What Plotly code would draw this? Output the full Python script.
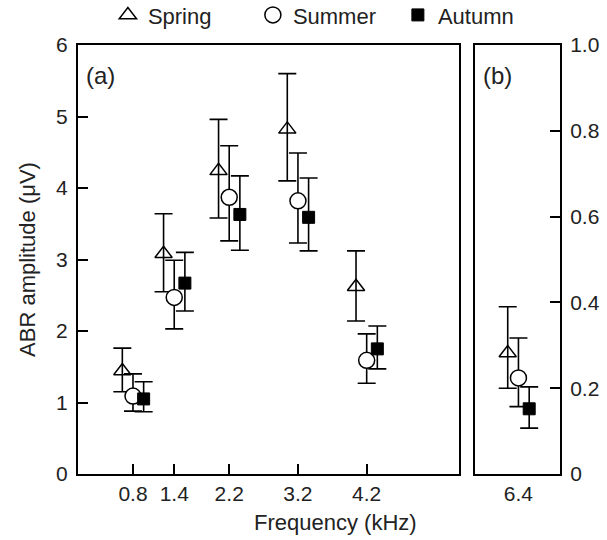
import plotly.graph_objects as go

# ---- data ----
freqs_a = [0.8, 1.4, 2.2, 3.2, 4.2]
freqs_b = [6.4]

spring_a = [1.44, 3.08, 4.24, 4.82, 2.62]
spring_a_hi = [1.76, 3.64, 4.96, 5.60, 3.12]
spring_a_lo = [1.15, 2.55, 3.58, 4.10, 2.14]

summer_a = [1.09, 2.47, 3.87, 3.82, 1.59]
summer_a_hi = [1.40, 2.99, 4.59, 4.49, 1.96]
summer_a_lo = [0.88, 2.03, 3.26, 3.23, 1.27]

autumn_a = [1.05, 2.67, 3.63, 3.59, 1.75]
autumn_a_hi = [1.29, 3.10, 4.17, 4.14, 2.07]
autumn_a_lo = [0.87, 2.28, 3.13, 3.12, 1.47]

spring_b = [0.282]
spring_b_hi = [0.39]
spring_b_lo = [0.20]

summer_b = [0.224]
summer_b_hi = [0.317]
summer_b_lo = [0.157]

autumn_b = [0.152]
autumn_b_hi = [0.203]
autumn_b_lo = [0.107]

series_names = ["Spring", "Summer", "Autumn"]
y_ticks_a = [0, 1, 2, 3, 4, 5, 6]
y_ticks_b = [0, 0.2, 0.4, 0.6, 0.8, 1.0]
y_ticktext_b = ["0", "0.2", "0.4", "0.6", "0.8", "1.0"]

# ---- styling ----
FONT = "Arial, Liberation Sans, Helvetica, sans-serif"
TXT = "#222"
dx = 0.155
styles = {
    "Spring": dict(symbol="triangle-up-open", size=15, color="black", line=dict(width=1.5, color="black")),
    "Summer": dict(symbol="circle", size=16, color="white", line=dict(width=1.5, color="black")),
    "Autumn": dict(symbol="square", size=12, color="black", line=dict(width=1, color="black")),
}
offsets = {"Spring": -dx, "Summer": 0.0, "Autumn": dx}


def err(mean, hi, lo):
    return dict(type="data", symmetric=False,
                array=[h - m for h, m in zip(hi, mean)],
                arrayminus=[m - l for m, l in zip(mean, lo)],
                color="black", thickness=1.6, width=9)


fig = go.Figure()

data_a = {
    "Spring": (spring_a, spring_a_hi, spring_a_lo),
    "Summer": (summer_a, summer_a_hi, summer_a_lo),
    "Autumn": (autumn_a, autumn_a_hi, autumn_a_lo),
}
data_b = {
    "Spring": (spring_b, spring_b_hi, spring_b_lo),
    "Summer": (summer_b, summer_b_hi, summer_b_lo),
    "Autumn": (autumn_b, autumn_b_hi, autumn_b_lo),
}

for name in series_names:
    m, hi, lo = data_a[name]
    fig.add_trace(go.Scatter(
        x=[f + offsets[name] for f in freqs_a], y=m, mode="markers", name=name,
        marker=styles[name], error_y=err(m, hi, lo), xaxis="x", yaxis="y",
        showlegend=True, cliponaxis=False))

for name in series_names:
    m, hi, lo = data_b[name]
    fig.add_trace(go.Scatter(
        x=[f + offsets[name] for f in freqs_b], y=m, mode="markers", name=name,
        marker=styles[name], error_y=err(m, hi, lo), xaxis="x2", yaxis="y2",
        showlegend=False, cliponaxis=False))

axis_common = dict(showline=True, linecolor="black", linewidth=2, mirror=True,
                   showgrid=False, zeroline=False,
                   tickfont=dict(family=FONT, size=21, color=TXT),
                   ticks="inside", ticklen=10, tickwidth=2, tickcolor="black")

fig.update_layout(
    width=607, height=540,
    margin=dict(l=78, r=47, t=45, b=66, autoexpand=False),
    plot_bgcolor="white", paper_bgcolor="white",
    font=dict(family=FONT, size=21, color=TXT),
    xaxis=dict(axis_common, domain=[0, 0.790], range=[0, 5.54],
               tickvals=freqs_a, ticktext=[str(f) for f in freqs_a]),
    yaxis=dict(axis_common, range=[0, 6], tickvals=y_ticks_a, ticklabelstandoff=4,
               title=dict(text="ABR amplitude (μV)", font=dict(family=FONT, size=22, color=TXT), standoff=14)),
    xaxis2=dict(axis_common, domain=[0.824, 1], range=[5.775, 7.0],
                tickvals=freqs_b, ticktext=[str(f) for f in freqs_b], ticks=""),
    yaxis2=dict(axis_common, range=[0, 1.0], anchor="x2", side="right",
                tickvals=y_ticks_b, ticktext=y_ticktext_b, ticklabelstandoff=4),
    legend=dict(orientation="h", x=0.062, y=0.972, xanchor="left", yanchor="middle",
                yref="container",
                font=dict(family=FONT, size=22, color=TXT),
                entrywidth=100, itemwidth=30, bgcolor="rgba(0,0,0,0)"),
    annotations=[
        dict(text="Frequency (kHz)", x=0.535, y=-0.112, xref="paper", yref="paper",
             xanchor="center", yanchor="middle", showarrow=False,
             font=dict(family=FONT, size=22, color=TXT)),
        dict(text="(a)", x=0.012, y=0.93, xref="paper", yref="paper",
             xanchor="left", yanchor="middle", showarrow=False,
             font=dict(family=FONT, size=24, color=TXT)),
        dict(text="(b)", x=0.836, y=0.93, xref="paper", yref="paper",
             xanchor="left", yanchor="middle", showarrow=False,
             font=dict(family=FONT, size=24, color=TXT)),
    ],
)

fig.write_html("out.html")
